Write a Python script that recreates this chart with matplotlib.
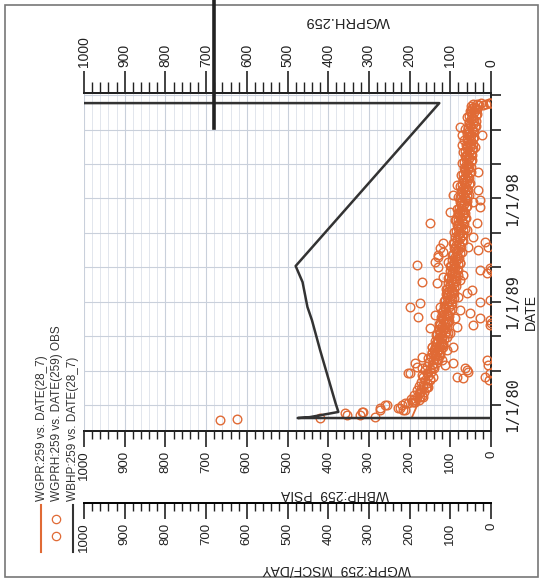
import matplotlib
matplotlib.use("Agg")
import matplotlib.pyplot as plt
from matplotlib.lines import Line2D
from matplotlib.patches import Rectangle
from matplotlib.ticker import MultipleLocator

plt.rcParams['font.family'] = ['Liberation Sans', 'DejaVu Sans']

# ---------------- data ----------------
# WBHP:259 (PSIA) simulated bottom-hole pressure
bhp_dates = [1978.87, 1978.87, 1978.95, 1979.40, 1980.17, 1984.80, 1987.40, 1988.54, 1990.71, 1992.11, 2006.30, 2006.30]
bhp_values = [0, 475, 445, 375, 382, 420, 440, 451, 463, 480, 127, 1100]

# WGPR:259 (MSCF/DAY) simulated gas rate
gpr_dates = [1978.87, 1980.50, 1983.05, 1986.80, 1990.00, 1992.60, 1995.50, 1998.50, 2001.50, 2004.50, 2006.28]
gpr_values = [195, 175, 155, 120, 105, 93, 82, 71, 61, 52, 45]

# WGPRH:259 observed gas rate
obs_dates = [
    # early production
    1978.68, 1978.75, 1978.84, 1979.13, 1979.28, 1979.42, 1979.13, 1979.42, 1978.98, 1979.56,
    1979.74, 1980.00, 1980.00, 1979.72, 1979.74, 1980.00, 1979.60, 1980.17, 1979.56, 1980.15,
    1980.29, 1980.29, 1980.44, 1980.72, 1981.16, 1981.59,
    # main trend
    1980.30, 1980.42, 1980.55, 1980.66, 1980.78, 1980.90,
    1981.02, 1981.15, 1981.27, 1981.40, 1981.52, 1981.65, 1981.77, 1981.90,
    1982.02, 1982.15, 1982.27, 1982.40, 1982.52, 1982.65, 1982.77, 1982.90,
    1983.02, 1983.15, 1983.27, 1983.40, 1983.52, 1983.65, 1983.77, 1983.90,
    1984.02, 1984.15, 1984.27, 1984.40, 1984.52, 1984.65, 1984.77, 1984.90,
    1985.02, 1985.15, 1985.27, 1985.40, 1985.52, 1985.65, 1985.77, 1985.90,
    1986.02, 1986.15, 1986.27, 1986.40, 1986.52, 1986.65, 1986.77, 1986.90,
    1987.02, 1987.15, 1987.27, 1987.40, 1987.52, 1987.65, 1987.77, 1987.90,
    1988.02, 1988.15, 1988.27, 1988.40, 1988.52, 1988.65, 1988.77, 1988.90,
    1989.02, 1989.15, 1989.27, 1989.40, 1989.52, 1989.65, 1989.77, 1989.90,
    1990.02, 1990.15, 1990.27, 1990.40, 1990.52, 1990.65, 1990.77, 1990.90,
    1991.02, 1991.15, 1991.27, 1991.40, 1991.52, 1991.65, 1991.77, 1991.90,
    1992.02, 1992.15, 1992.27, 1992.40, 1992.52, 1992.65, 1992.77, 1992.90,
    1993.02, 1993.15, 1993.27, 1993.40, 1993.52, 1993.65, 1993.77, 1993.90,
    1994.02, 1994.15, 1994.27, 1994.40, 1994.52, 1994.65, 1994.77, 1994.90,
    1995.02, 1995.15, 1995.27, 1995.40, 1995.52, 1995.65, 1995.77, 1995.90,
    1996.02, 1996.15, 1996.27, 1996.40, 1996.52, 1996.65, 1996.77, 1996.90,
    1997.02, 1997.15, 1997.27, 1997.40, 1997.52, 1997.65, 1997.77, 1997.90,
    1998.02, 1998.15, 1998.27, 1998.40, 1998.52, 1998.65, 1998.77, 1998.90,
    1999.02, 1999.15, 1999.27, 1999.40, 1999.52, 1999.65, 1999.77, 1999.90,
    2000.02, 2000.15, 2000.27, 2000.40, 2000.52, 2000.65, 2000.77, 2000.90,
    2001.02, 2001.15, 2001.27, 2001.40, 2001.52, 2001.65, 2001.77, 2001.90,
    2002.02, 2002.15, 2002.27, 2002.40, 2002.52, 2002.65, 2002.77, 2002.90,
    2003.02, 2003.15, 2003.27, 2003.40, 2003.52, 2003.65, 2003.77, 2003.90,
    2004.02, 2004.15, 2004.27, 2004.40, 2004.52, 2004.65, 2004.77, 2004.90,
    2005.02, 2005.15, 2005.27, 2005.40, 2005.52, 2005.65, 2005.77, 2005.90,
    2006.00, 2006.08, 2006.12, 2006.16, 2006.20, 2006.22, 2006.25, 2006.28, 2006.30, 2006.32,
    # additional monthly readings
    1984.08, 1984.33, 1984.58, 1984.83, 1985.08, 1985.33, 1985.58, 1985.83,
    1986.08, 1986.33, 1986.58, 1986.83, 1987.08, 1987.33, 1987.58, 1987.83,
    1988.08, 1988.33, 1988.58, 1988.83, 1989.08, 1989.33, 1989.58, 1989.83,
    1990.08, 1990.33, 1990.58, 1990.83, 1991.08, 1991.33, 1991.58, 1991.83,
    1992.08, 1992.33, 1992.58, 1992.83, 1993.08, 1993.33, 1993.58, 1993.83,
    1994.08, 1994.33, 1994.58, 1994.83, 1995.08, 1995.33, 1995.58, 1995.83,
    1996.08, 1996.33, 1996.58, 1996.83, 1997.08, 1997.33, 1997.58, 1997.83,
    1998.08, 1998.33, 1998.58, 1998.83, 1999.08, 1999.33, 1999.58, 1999.83,
    2000.08, 2000.33, 2000.58, 2000.83, 2001.08, 2001.33, 2001.58, 2001.83,
    2002.08, 2002.33, 2002.58, 2002.83, 2003.08, 2003.33, 2003.58, 2003.83,
    2004.08, 2004.33, 2004.58, 2004.83, 2005.08, 2005.33, 2005.58, 2005.83,
    # scattered readings
    1982.79, 1983.34, 1984.21, 1981.59, 1980.72, 1981.59, 1982.18, 1982.47, 1983.34, 1983.92,
    1984.53, 1985.08, 1985.08, 1985.51, 1985.95, 1986.27, 1986.27, 1985.08, 1986.82, 1987.14,
    1986.97, 1983.66, 1983.22, 1982.35, 1983.05, 1986.97, 1983.92, 1983.48, 1987.12,
    1992.20, 1990.74, 1988.56, 1988.86, 1987.69, 1986.68, 1992.05, 1990.60, 1991.18, 1987.84,
    1988.56, 1989.87, 1991.47, 1990.89, 1989.43, 1989.73, 1987.99, 1989.00, 1988.28, 1987.55,
    1986.25, 1985.37, 1984.79, 1984.79, 1983.92, 1983.48, 1983.63, 1982.76, 1983.20, 1982.90,
    1982.47, 1982.76, 1991.47, 1991.76, 1991.76, 1987.55, 1987.40, 1986.97,
    1995.83, 1994.09, 1993.07, 1997.27, 1995.83, 1994.23, 1993.50, 1991.91, 1989.15, 1990.02,
    1996.70, 1995.24, 1993.79, 1992.34, 1991.32,
    1998.73, 1997.86, 2004.10, 2003.52, 2004.24, 2003.52, 1999.16, 1998.29, 1996.84, 2006.28,
    1993.79, 1996.11, 1993.65, 1993.35, 1992.92, 1992.48, 1992.48, 2002.65, 2002.50, 2000.32,
    1998.29, 1997.71, 1994.81, 1994.66, 1982.40, 1982.20,
]
obs_wgprh = [
    666, 625, 420, 355, 358, 318, 322, 314, 285, 273,
    273, 260, 256, 224, 228, 219, 216, 204, 211, 211,
    195, 187, 191, 166, 174, 158,
    190, 178, 196, 181, 170, 188,
    176, 165, 182, 171, 160, 178, 168, 157,
    172, 161, 150, 166, 155, 170, 158, 147,
    162, 151, 140, 157, 146, 135, 152, 143,
    131, 148, 137, 127, 144, 133, 141, 124,
    138, 128, 119, 135, 124, 131, 116, 127,
    120, 133, 112, 125, 117, 128, 109, 121,
    114, 126, 106, 118, 110, 122, 103, 115,
    108, 119, 100, 112, 104, 116, 97, 109,
    102, 113, 95, 107, 99, 110, 92, 104,
    97, 108, 90, 101, 94, 105, 87, 99,
    92, 102, 85, 96, 89, 100, 82, 94,
    88, 98, 80, 91, 85, 96, 78, 89,
    83, 94, 76, 87, 81, 92, 74, 85,
    79, 90, 72, 84, 77, 88, 70, 81,
    75, 86, 69, 80, 73, 84, 66, 78,
    72, 82, 65, 77, 70, 80, 63, 75,
    68, 79, 61, 73, 66, 77, 60, 71,
    65, 75, 58, 70, 63, 73, 56, 68,
    62, 72, 55, 67, 60, 70, 53, 65,
    59, 69, 52, 64, 57, 67, 50, 62,
    56, 66, 49, 61, 54, 64, 47, 59,
    53, 63, 46, 58, 51, 61, 44, 56,
    50, 60, 43, 55, 48, 58, 41, 53,
    47, 57, 40, 52, 45, 55, 38, 50,
    44, 54, 37, 49, 42, 52, 35, 47,
    41, 50, 30, 20, 44, 12, 35, 5, 25, 0,
    # additional monthly readings
    154, 126, 145, 131, 144, 117, 137, 121,
    135, 110, 128, 113, 128, 102, 120, 106,
    121, 96, 113, 99, 115, 90, 107, 94,
    110, 85, 101, 89, 105, 80, 96, 84,
    101, 76, 92, 80, 97, 72, 88, 76,
    93, 68, 84, 72, 90, 65, 81, 69,
    87, 62, 78, 66, 83, 58, 74, 62,
    80, 55, 71, 59, 77, 52, 68, 56,
    74, 49, 65, 53, 71, 46, 62, 50,
    69, 44, 60, 48, 66, 41, 57, 45,
    63, 38, 54, 42, 59, 34, 50, 38,
    # scattered readings
    204, 183, 170, 167, 174, 155, 150, 142, 142, 133,
    125, 146, 118, 133, 109, 101, 125, 93, 84, 109,
    125, 93, 64, 69, 60, 44, 11, 7, 0,
    183, 170, 199, 174, 179, 150, 129, 133, 117, 138,
    125, 109, 97, 76, 80, 60, 52, 27, 76, 88,
    105, 121, 109, 138, 121, 113, 187, 199, 170, 56,
    84, 2, 11, 0, 27, 27, 2, 2,
    150, 117, 129, 27, 35, 15, 31, 2, 2, 47,
    80, 60, 56, 76, 68,
    31, 27, 56, 23, 76, 72, 84, 93, 101, 2,
    7, 88, 125, 117, 129, 138, 105, 72, 39, 31,
    60, 43, 68, 43, 14, 5,
]

value_ticks = list(range(0, 1001, 100))
date_ticks = [1980, 1983, 1986, 1989, 1992, 1995, 1998, 2001, 2004, 2007]
date_labels = ['1/1/80', '', '', '1/1/89', '', '', '1/1/98', '', '', '']

legend_labels = ['WGPR:259 vs. DATE(28_7)', 'WGPRH:259 vs. DATE(259) OBS', 'WBHP:259 vs. DATE(28_7)']

ORANGE = '#E06A35'
DARK = '#333333'
W, H = 545, 580


def fx(x):
    return x / W


def fy(y):
    return 1 - y / H


fig = plt.figure(figsize=(W / 100, H / 100), dpi=100)
fig.patch.set_facecolor('white')

L, R, T, B = 84, 491, 93, 431
ax = fig.add_axes([fx(L), fy(B), (R - L) / W, (B - T) / H])
ax.set_xlim(1000, 0)
ax.set_ylim(1977.74, 2007.18)

# grid
ax.set_xticks(value_ticks)
ax.xaxis.set_minor_locator(MultipleLocator(20))
ax.tick_params(axis='x', which='both', length=0, labelbottom=False, labeltop=False)
ax.grid(axis='x', which='major', color='#c9d0db', lw=0.8, zorder=0)
ax.grid(axis='x', which='minor', color='#e2e6ed', lw=0.7, zorder=0)
ax.grid(axis='y', which='major', color='#c9d0db', lw=0.8, zorder=0)

# date axis on the right
ax.yaxis.tick_right()
ax.set_yticks(date_ticks)
ax.set_yticklabels(date_labels, rotation=90, va='center',
                   family=['DejaVu Sans Mono'], fontsize=11)
ax.tick_params(axis='y', direction='out', length=7.5, width=1.2, pad=3, colors='#222222')
ax.spines['left'].set_visible(False)
for s in ['top', 'bottom', 'right']:
    ax.spines[s].set_linewidth(1.4)
    ax.spines[s].set_color('#222222')

# data
ax.plot(obs_wgprh, obs_dates, 'o', mfc='none', mec=ORANGE, ms=6.2, mew=1.0, zorder=3)
ax.plot(gpr_values, gpr_dates, '-', color=ORANGE, lw=1.3, zorder=4)
ax.plot(bhp_values, bhp_dates, '-', color=DARK, lw=1.8, zorder=5)

# top axis (WGPRH.259)
top = ax.secondary_xaxis('top')
top.set_xticks(value_ticks)
top.xaxis.set_minor_locator(MultipleLocator(20))
top.tick_params(which='major', direction='out', length=16, width=1.2, pad=3, labelsize=10,
                labelrotation=90, colors='#222222')
top.tick_params(which='minor', direction='out', length=8, width=1.0, colors='#222222')
top.spines['top'].set_linewidth(1.4)

# bottom axes (WBHP, WGPR)
for loc in [0, -(503 - B) / (B - T)]:
    sec = ax.secondary_xaxis(loc)
    sec.set_xticks(value_ticks)
    sec.xaxis.set_minor_locator(MultipleLocator(20))
    sec.tick_params(which='major', direction='out', length=11.5, width=1.2, pad=2.5, labelsize=9.5,
                    labelrotation=90, colors='#222222')
    sec.tick_params(which='minor', direction='out', length=5.5, width=1.0, colors='#222222')
    sec.spines['bottom'].set_linewidth(1.4)

# axis titles
fig.text(fx(348), fy(21), 'WGPRH.259', rotation=180, ha='center', va='center', fontsize=10.5, color='#222222')
fig.text(fx(335), fy(494), 'WBHP:259  PSIA', rotation=180, ha='center', va='center', fontsize=10, color='#222222')
fig.text(fx(337), fy(569), 'WGPR:259  MSCF/DAY', rotation=180, ha='center', va='center', fontsize=10, color='#222222')
fig.text(fx(531), fy(312), 'DATE', rotation=90, ha='center', va='center', fontsize=10, color='#222222')

# legend (rotated)
tr = fig.transFigure
fig.add_artist(Line2D([fx(41), fx(41)], [fy(505), fy(552)], color=ORANGE, lw=1.5, transform=tr))
fig.add_artist(Line2D([fx(56), fx(56)], [fy(519), fy(536)], ls='none', marker='o', mfc='none',
                      mec=ORANGE, ms=6, mew=0.9, transform=tr))
fig.add_artist(Line2D([fx(73), fx(73)], [fy(505), fy(552)], color=DARK, lw=1.5, transform=tr))
for xpos, lab in zip([42, 57.5, 73], legend_labels):
    fig.text(fx(xpos), fy(501), lab, rotation=90, ha='center', va='bottom', fontsize=8.5, color='#333333')

# scan artefacts: outer frame and heavy marker line
fig.add_artist(Rectangle((fx(5), fy(577)), fx(533), 572 / H, fill=False, ec='#777777', lw=1.2, transform=tr))
fig.add_artist(Line2D([fx(214), fx(214)], [fy(0), fy(128)], color='#222222', lw=2.6, transform=tr))

fig.savefig('out.png', dpi=100)
